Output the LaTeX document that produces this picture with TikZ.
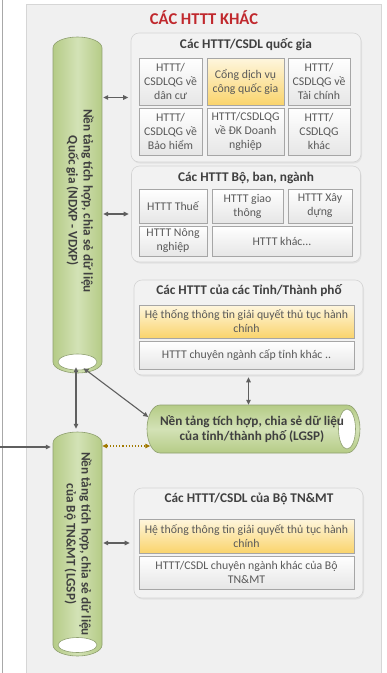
\documentclass[tikz,border=0pt]{standalone}
\usepackage{fontspec}
\setmainfont{Carlito}
\usetikzlibrary{arrows.meta,shadows,calc}
\definecolor{panelbg}{HTML}{F0F0F0}
\definecolor{panelborder}{HTML}{D6D6D6}
\definecolor{boxbg}{HTML}{F2F2F2}
\definecolor{boxborder}{HTML}{D4D4D4}
\definecolor{cellborder}{HTML}{A6A6A6}
\definecolor{cellbot}{HTML}{E6E6E6}
\definecolor{celltext}{HTML}{595959}
\definecolor{titletext}{HTML}{404040}
\definecolor{ytop}{HTML}{FEF6DE}
\definecolor{ybot}{HTML}{FAD46C}
\definecolor{cylside}{HTML}{B5CB86}
\definecolor{cylmid}{HTML}{D3E2B6}
\definecolor{cylborder}{HTML}{8FA070}
\definecolor{arrowgray}{HTML}{5F5F5F}
\definecolor{dotbrown}{HTML}{A07800}
\definecolor{maintitle}{HTML}{C0282D}
\definecolor{leftgray}{HTML}{A8A8A8}
\begin{document}
\begin{tikzpicture}[x=1pt,y=-1pt,
  groupbox/.style={draw=boxborder, fill=boxbg, rounded corners=8pt, line width=0.6pt,
    drop shadow={opacity=0.12, shadow xshift=1pt, shadow yshift=-1.5pt}, inner sep=0pt},
  grouptitle/.style={font=\fontsize{13.3}{15}\selectfont\bfseries, text=titletext, inner sep=0pt},
  cell/.style={draw=cellborder, line width=0.6pt, top color=white, bottom color=cellbot,
    align=center, font=\fontsize{11.8}{14}\selectfont, text=celltext, inner sep=0pt},
  ycell/.style={cell, top color=ytop, bottom color=ybot},
  cyltext/.style={font=\fontsize{13.2}{15}\selectfont\bfseries, text=titletext, align=center, inner sep=0pt},
  cylshape/.style={draw=cylborder, line width=0.6pt},
  openend/.style={draw=cylborder, fill=white, line width=0.6pt},
  tipA/.tip={Triangle[length=5pt,width=4.5pt]},
  arr/.style={draw=arrowgray, line width=1.1pt, -tipA},
  dbl/.style={draw=arrowgray, line width=1.1pt, tipA-tipA},
  dotarr/.style={draw=dotbrown, line width=1.1pt, dotted, {Triangle[length=5pt,width=4.5pt,fill=dotbrown]}-{Triangle[length=5pt,width=4.5pt,fill=dotbrown]}}
]
\useasboundingbox (0,0) rectangle (387,673);

% outer panel and left line
\path[fill=panelbg, draw=panelborder, line width=0.8pt] (26,4) rectangle (381,680);
\draw[leftgray, line width=1.4pt] (2.5,0) -- (2.5,673);

% main title
\node[font=\fontsize{16.5}{20}\selectfont\bfseries, text=maintitle, inner sep=0pt] (title) at (204,18) {CÁC HTTT KHÁC};

% ---------- cylinders ----------
% NDXP (vertical)
\path[cylshape, left color=cylside, right color=cylside, middle color=cylmid]
  (53,48) -- (53,362) arc[start angle=180, end angle=0, x radius=24.5, y radius=11]
  -- (102,48) arc[start angle=0, end angle=-180, x radius=24.5, y radius=11] -- cycle;
\path[openend] (77.5,362) ellipse[x radius=19.5, y radius=8];
\node[inner sep=0pt, minimum width=49pt, minimum height=336pt] (ndxp) at (77.5,205) {};
\node[cyltext, rotate=-90] (ndxpT) at (80,201) {Nền tảng tích hợp, chia sẻ dữ liệu\\Quốc gia (NDXP - VDXP)};

% TN&MT (vertical)
\path[cylshape, left color=cylside, right color=cylside, middle color=cylmid]
  (53,443) -- (53,645) arc[start angle=180, end angle=0, x radius=24.5, y radius=11]
  -- (102,443) arc[start angle=0, end angle=-180, x radius=24.5, y radius=11] -- cycle;
\path[openend] (77.5,645) ellipse[x radius=19.5, y radius=7.5];
\node[inner sep=0pt, minimum width=49pt, minimum height=224pt] (tnmt) at (77.5,544) {};
\node[cyltext, rotate=-90] (tnmtT) at (78,544) {Nền tảng tích hợp, chia sẻ dữ liệu\\của Bộ TN\&MT (LGSP)};

% LGSP (horizontal)
\path[cylshape, top color=cylside, bottom color=cylside, middle color=cylmid]
  (160,405) -- (347,405) arc[start angle=-90, end angle=90, x radius=13, y radius=24]
  -- (160,453) arc[start angle=90, end angle=270, x radius=13, y radius=24] -- cycle;
\path[openend] (347,429) ellipse[x radius=8.5, y radius=20];
\node[inner sep=0pt, minimum width=213pt, minimum height=48pt] (lgsp) at (253.5,429) {};
\node[cyltext] (lgspT) at (252,429) {Nền tảng tích hợp, chia sẻ dữ liệu\\của tỉnh/thành phố (LGSP)};

% ---------- group 1 ----------
\node[groupbox, minimum width=230pt, minimum height=129pt] (g1) at (246,97.5) {};
\node[grouptitle] (t1) at (246,45) {Các HTTT/CSDL quốc gia};
\node[cell, minimum width=63pt, minimum height=47pt] (c11) at (170.5,81.5) {HTTT/\\CSDLQG về\\dân cư};
\node[ycell, minimum width=77pt, minimum height=47pt] (c12) at (245.5,81.5) {Cổng dịch vụ\\công quốc gia};
\node[cell, minimum width=62pt, minimum height=47pt] (c13) at (319,81.5) {HTTT/\\CSDLQG về\\Tài chính};
\node[cell, minimum width=63pt, minimum height=47pt] (c14) at (170.5,131.5) {HTTT/\\CSDLQG về\\Bảo hiểm};
\node[cell, minimum width=77pt, minimum height=47pt] (c15) at (245.5,131.5) {HTTT/CSDLQG\\về ĐK Doanh\\nghiệp};
\node[cell, minimum width=62pt, minimum height=47pt] (c16) at (319,131.5) {HTTT/\\CSDLQG\\khác};

% ---------- group 2 ----------
\node[groupbox, minimum width=229pt, minimum height=96pt] (g2) at (246,214) {};
\node[grouptitle] (t2) at (246,178) {Các HTTT Bộ, ban, ngành};
\node[cell, minimum width=68pt, minimum height=34pt] (c21) at (173,206) {HTTT Thuế};
\node[cell, minimum width=71pt, minimum height=34pt] (c22) at (247.5,206) {HTTT giao\\thông};
\node[cell, minimum width=64pt, minimum height=34pt] (c23) at (320,206) {HTTT Xây\\dựng};
\node[cell, minimum width=68pt, minimum height=30pt] (c24) at (173,241) {HTTT Nông\\nghiệp};
\node[cell, minimum width=140pt, minimum height=30pt] (c25) at (282,241) {HTTT khác...};

% ---------- group 3 ----------
\node[groupbox, minimum width=229pt, minimum height=95pt] (g3) at (248.5,327.5) {};
\node[grouptitle] (t3) at (249,291) {Các HTTT của các Tỉnh/Thành phố};
\node[ycell, minimum width=215pt, minimum height=33pt] (c31) at (246.5,321.5) {Hệ thống thông tin giải quyết thủ tục hành\\chính};
\node[cell, minimum width=215pt, minimum height=28pt] (c32) at (246.5,355) {HTTT chuyên ngành cấp tỉnh khác ..};

% ---------- group 4 ----------
\node[groupbox, minimum width=229pt, minimum height=110pt] (g4) at (248.5,543) {};
\node[grouptitle] (t4) at (249,499) {Các HTTT/CSDL của Bộ TN\&MT};
\node[ycell, minimum width=215pt, minimum height=34pt] (c41) at (246.5,536) {Hệ thống thông tin giải quyết thủ tục hành\\chính};
\node[cell, minimum width=215pt, minimum height=33pt] (c42) at (246.5,572.5) {HTTT/CSDL chuyên ngành khác của Bộ\\TN\&MT};

% ---------- connectors ----------
\draw[dbl, shorten <=1pt, shorten >=2.5pt] (g1.west -| ndxp.east) -- (g1.west);
\draw[dbl, shorten <=1pt, shorten >=2.5pt] (g2.west -| ndxp.east) -- (g2.west);
\draw[dbl, shorten <=1pt, shorten >=4pt] (g4.west -| tnmt.east) -- (g4.west);
\draw[dbl, shorten <=2pt] (g3.south) -- (g3.south |- lgsp.north);
\draw[dbl] ([xshift=-1.5pt,yshift=6pt]ndxp.south) -- ([xshift=-1.5pt,yshift=3pt]tnmt.north);
\draw[dbl] ([xshift=6pt,yshift=5pt]ndxp.south) -- ([xshift=1.5pt,yshift=12pt]lgsp.west);
\coordinate (dotR) at ([xshift=3.5pt,yshift=-17pt]lgsp.west);
\draw[dotarr] (dotR -| tnmt.east) -- (dotR);
\coordinate (inL) at (0,447);
\draw[arr, shorten >=2pt] (inL) -- (inL -| tnmt.west);
\end{tikzpicture}
\end{document}
